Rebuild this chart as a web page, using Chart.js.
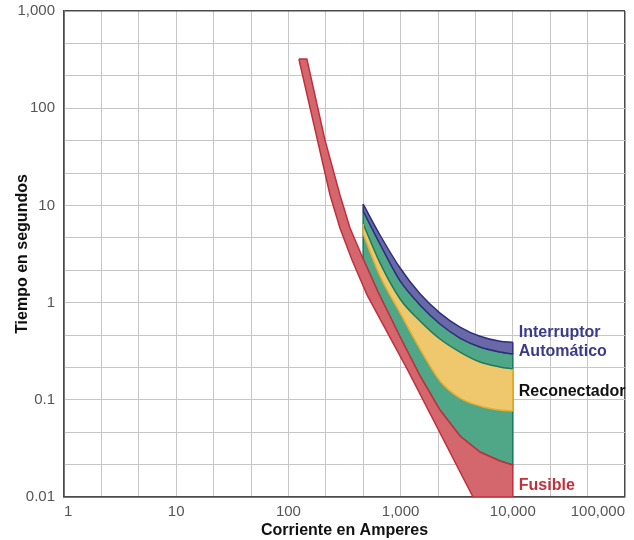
<!DOCTYPE html>
<html lang="es">
<head>
<meta charset="utf-8">
<title>Curvas tiempo-corriente</title>
<script src="https://cdn.jsdelivr.net/npm/chart.js@4.4.1/dist/chart.umd.min.js"></script>
<style>
    html, body { margin: 0; padding: 0; background: #fff; }
    #wrap { width: 634px; height: 540px; position: relative; }
</style>
</head>
<body>
<div id="wrap"><canvas id="tcc"></canvas></div>
<script>
/* ===========================
   DATA  [corriente (A), tiempo (s)]
=========================== */

const xTickLabels = ["1", "10", "100", "1,000", "10,000", "100,000"];
const yTickLabels = ["0.01", "0.1", "1", "10", "100", "1,000"];

// Fusible: fusión mínima (borde izquierdo) y despeje total (borde derecho)
const fuseMelt = [
    [124, 320], [173, 60], [235, 12.8], [288, 5.85],
    [369, 2.74], [502, 1.2], [1164, 0.2], [4420, 0.01]
];

const fuseClear = [
    [146, 320], [212, 47], [288, 12.8], [354, 5.85],
    [464, 2.81], [629, 1.285], [990, 0.443], [1489, 0.176],
    [2245, 0.0785], [3383, 0.0424], [5100, 0.029], [7689, 0.0235],
    [10000, 0.0213]
];

// Interruptor automático
const breakerTop = [
    [464, 10.3], [655, 4.96], [990, 2.27], [1489, 1.23], [2245, 0.78],
    [3383, 0.56], [5100, 0.45], [7689, 0.40], [10000, 0.39]
];

const breakerBottom = [
    [464, 8.76], [655, 4.01], [990, 1.67], [1489, 0.945], [2245, 0.602],
    [3383, 0.432], [5100, 0.349], [7689, 0.31], [10000, 0.296]
];

// Reconectador (zona amarilla entre las dos curvas verdes)
const recloserTop = [
    [464, 6.44], [655, 2.56], [990, 1.09], [1489, 0.647], [2245, 0.422],
    [3383, 0.31], [5100, 0.245], [7689, 0.218], [10000, 0.2075]
];

const recloserBottom = [
    [464, 5.08], [655, 1.88], [990, 0.782], [1489, 0.333], [2245, 0.156],
    [3383, 0.104], [5100, 0.0864], [7689, 0.0785], [10000, 0.0767]
];

const X_MIN = 1;
const X_MAX = 100000;
const Y_MIN = 0.01;
const Y_MAX = 1000;

/* ===========================
   HELPERS
=========================== */

const toPoints = arr => arr.map(([x, y]) => ({ x: x, y: y }));

// closed outline: upper curve, then lower curve backwards
function band(upper, lower) {
    const pts = upper.concat(lower.slice().reverse());
    pts.push(upper[0]);
    return toPoints(pts);
}

// vertical end lines of a band
function bandEnds(upper, lower) {
    const n = upper.length - 1;
    return [
        toPoints([upper[0], lower[0]]),
        toPoints([upper[n], lower[n]])
    ];
}

function thirdDecadeTicks(scale) {
    const lo = Math.round(Math.log10(scale.min) * 3);
    const hi = Math.round(Math.log10(scale.max) * 3);
    const ticks = [];
    for (let k = lo; k <= hi; k++) {
        ticks.push({ value: Math.pow(10, k / 3) });
    }
    scale.ticks = ticks;
}

function decadeLabel(labels, firstExp) {
    return function (value) {
        const e = Math.log10(value);
        const r = Math.round(e);
        return Math.abs(e - r) < 1e-6 ? labels[r - firstExp] : "";
    };
}

function isEdge(ctx) {
    return ctx.index === 0 || ctx.index === ctx.scale.ticks.length - 1;
}

const GRID = "#c6c6c6";
const EDGE = "#4a4a4a";
const FONT = "'Liberation Sans', Arial, sans-serif";

/* ===========================
   DATASETS
=========================== */

const xEnd = fuseClear[fuseClear.length - 1][0];

const base = {
    showLine: true,
    borderWidth: 1.5,
    pointRadius: 0,
    pointHoverRadius: 0,
    tension: 0,
    fill: false
};

const smooth = { ...base, cubicInterpolationMode: "monotone" };

const yellowEnds = bandEnds(recloserTop, recloserBottom);
const blueEnds = bandEnds(breakerTop, breakerBottom);

const datasets = [
    // 0: reconectador, zona verde
    {
        ...base,
        label: "Reconectador",
        data: band(breakerBottom, fuseClear.filter(p => p[0] >= breakerBottom[0][0])),
        fill: "shape",
        backgroundColor: "#4fa788",
        borderColor: "#16785a",
        order: 10
    },
    // 1: fusible
    {
        ...base,
        label: "Fusible",
        data: band(fuseMelt.concat([[xEnd, Y_MIN]]), fuseClear),
        fill: "shape",
        backgroundColor: "#d3676d",
        borderColor: "#c22f3b",
        order: 9
    },
    // 2-5: reconectador, zona amarilla
    {
        ...smooth,
        label: "Reconectador (zona)",
        data: toPoints(recloserTop),
        fill: { target: 3 },
        backgroundColor: "#efc76c",
        borderColor: "#1b7b5b",
        order: 8
    },
    { ...smooth, data: toPoints(recloserBottom), borderColor: "#e8ad2c", order: 7 },
    { ...base, data: yellowEnds[0], borderColor: "#e8ad2c", order: 7 },
    { ...base, data: yellowEnds[1], borderColor: "#e8ad2c", order: 7 },
    // 6-9: interruptor automático
    {
        ...smooth,
        label: "Interruptor Automático",
        data: toPoints(breakerTop),
        fill: { target: 7 },
        backgroundColor: "#6a69a8",
        borderColor: "#2e2c7e",
        order: 6
    },
    { ...smooth, data: toPoints(breakerBottom), borderColor: "#2e2c7e", order: 5 },
    { ...base, data: blueEnds[0], borderColor: "#2e2c7e", order: 5 },
    { ...base, data: blueEnds[1], borderColor: "#2e2c7e", order: 5 }
];

/* ===========================
   LABELS PLUGIN
=========================== */

const bandLabels = {
    id: "bandLabels",
    afterDatasetsDraw(chart) {
        const { ctx, scales: { x, y } } = chart;
        const last = arr => arr[arr.length - 1][1];
        const mid = (a, b) => (y.getPixelForValue(a) + y.getPixelForValue(b)) / 2;
        const px = x.getPixelForValue(xEnd) + 6;

        ctx.save();
        ctx.font = "bold 16px " + FONT;
        ctx.textAlign = "left";
        ctx.textBaseline = "middle";

        const blueMid = mid(last(breakerTop), last(breakerBottom));
        ctx.fillStyle = "#3a3a8c";
        ctx.fillText("Interruptor", px, blueMid - 16);
        ctx.fillText("Automático", px, blueMid + 3);

        ctx.fillStyle = "#111111";
        ctx.fillText("Reconectador", px, mid(last(recloserTop), last(recloserBottom)) + 2);

        ctx.fillStyle = "#c2303b";
        ctx.fillText("Fusible", px, mid(last(fuseClear), Y_MIN) + 5);
        ctx.restore();
    }
};

/* ===========================
   CHART
=========================== */

new Chart(document.getElementById("tcc"), {
    type: "scatter",

    data: { datasets: datasets },

    options: {
        responsive: true,
        maintainAspectRatio: false,
        animation: false,
        layout: {
            padding: { top: 11, right: 9, left: 0, bottom: 0 }
        },

        plugins: {
            legend: { display: false },
            tooltip: { enabled: false }
        },

        scales: {
            x: {
                type: "logarithmic",
                min: X_MIN,
                max: X_MAX,
                afterBuildTicks: thirdDecadeTicks,
                afterFit(scale) {
                    scale.height = 43;
                    scale.paddingLeft = 0;
                    scale.paddingRight = 0;
                },
                ticks: {
                    autoSkip: false,
                    maxRotation: 0,
                    minRotation: 0,
                    align: "inner",
                    padding: 6,
                    color: "#555555",
                    font: { family: FONT, size: 15 },
                    callback: decadeLabel(xTickLabels, 0)
                },
                grid: {
                    drawTicks: false,
                    color: ctx => isEdge(ctx) ? EDGE : GRID,
                    lineWidth: ctx => isEdge(ctx) ? 1.5 : 1
                },
                border: { color: EDGE, width: 1.5 },
                title: {
                    display: true,
                    text: "Corriente en Amperes",
                    color: "#111111",
                    padding: { top: 0, bottom: 0 },
                    font: { family: FONT, size: 16, weight: "bold" }
                }
            },

            y: {
                type: "logarithmic",
                min: Y_MIN,
                max: Y_MAX,
                afterBuildTicks: thirdDecadeTicks,
                afterFit(scale) {
                    scale.width = 64;
                    scale.paddingTop = 0;
                    scale.paddingBottom = 0;
                },
                ticks: {
                    autoSkip: false,
                    padding: 9,
                    color: "#555555",
                    font: { family: FONT, size: 15 },
                    callback: decadeLabel(yTickLabels, -2)
                },
                grid: {
                    drawTicks: false,
                    color: ctx => isEdge(ctx) ? EDGE : GRID,
                    lineWidth: ctx => isEdge(ctx) ? 1.5 : 1
                },
                border: { color: EDGE, width: 1.5 },
                title: {
                    display: true,
                    text: "Tiempo en segundos",
                    color: "#111111",
                    padding: { top: 13, bottom: 0 },
                    font: { family: FONT, size: 16, weight: "bold" }
                }
            }
        }
    },

    plugins: [bandLabels]
});
</script>
</body>
</html>
